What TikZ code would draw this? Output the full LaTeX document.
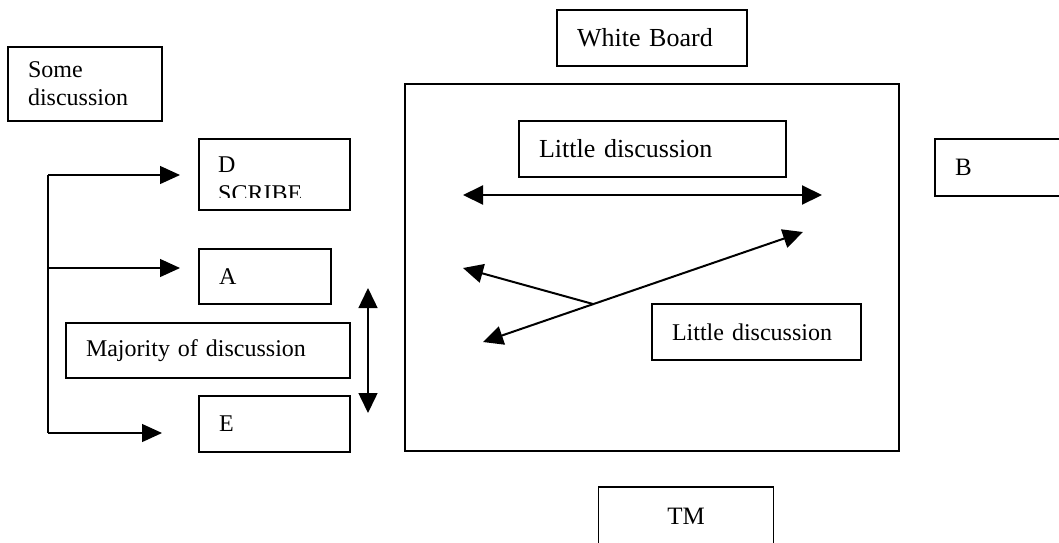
\documentclass[tikz,border=0pt]{standalone}
\usepackage{fontspec}
\setmainfont{Liberation Serif}
\usetikzlibrary{arrows.meta}

\tikzset{
  box/.style={draw, line width=1.6pt, inner xsep=20pt, inner ysep=0pt, align=left,
    font=\fontsize{24}{28}\selectfont},
  pfeil/.style={line width=1.3pt, -{Triangle[length=20pt,width=18pt]}},
  doppelpfeil/.style={line width=2pt, {Triangle[length=20pt,width=19pt]}-{Triangle[length=20pt,width=19pt]}}
}

\begin{document}
\begin{tikzpicture}[x=1pt,y=-1pt]
\useasboundingbox (0,0) rectangle (1059,542);

% Kaesten links
\node[box, minimum width=154pt, minimum height=74pt, text width=114pt] (some) at (85,84) {Some\\discussion};
\node[box, minimum width=151pt, minimum height=71pt] (d) at (274.5,174.5) {};
\begin{scope}
  \clip (199,139) rectangle (350,197);
  \node[anchor=north west, inner sep=0pt, align=left, font=\fontsize{24}{29}\selectfont] (dtext) at (218,157) {D\\SCRIBE};
\end{scope}
\node[box, minimum width=132pt, minimum height=55pt, text width=92pt] (a) at (265,276.5) {A};
\node[box, minimum width=284pt, minimum height=55pt, text width=244pt] (major) at (208,350.5) {Majority of discussion};
\node[box, minimum width=151pt, minimum height=56pt, text width=111pt] (e) at (274.5,424) {E};

% White Board
\node[box, minimum width=190pt, minimum height=56pt, text width=150pt, font=\fontsize{26}{30}\selectfont] (wb) at (652,38) {White Board};
\node[draw, line width=1.6pt, minimum width=494pt, minimum height=367pt] (board) at (652,267.5) {};
\node[box, minimum width=267pt, minimum height=56pt, text width=227pt, font=\fontsize{26}{30}\selectfont] (little1) at (652.5,149) {Little discussion};
\node[box, minimum width=209pt, minimum height=56pt, text width=169pt] (little2) at (756.5,332) {Little discussion};

% rechts und unten
\node[box, minimum width=140pt, minimum height=57pt, text width=100pt, font=\fontsize{25}{29}\selectfont] (b) at (1005,167.5) {B};
\node[box, minimum width=175pt, minimum height=58pt, text width=135pt, align=center, font=\fontsize{25}{29}\selectfont] (tm) at (686,516) {TM};

% Klammer mit Pfeilen
\coordinate (s1) at (48,175);
\coordinate (s2) at (48,268);
\coordinate (s3) at (48,433);
\coordinate (din) at (180,175);
\coordinate (ain) at (180,268);
\coordinate (ein) at (162,433);
\draw[line width=1.3pt] (s1) -- (s3);
\draw[pfeil] (s1) -- (din);
\draw[pfeil] (s2) -- (ain);
\draw[pfeil] (s3) -- (ein);

% senkrechter Doppelpfeil
\coordinate (v1) at (368,288);
\coordinate (v2) at (368,413);
\draw[doppelpfeil, line width=1.5pt] (v1) -- (v2);

% Pfeile auf der Tafel
\coordinate (h1) at (463,195);
\coordinate (h2) at (822,195);
\coordinate (l1) at (483,342);
\coordinate (l2) at (803,232);
\coordinate (kreuz) at (593,304);
\coordinate (k1) at (463,268);
\draw[doppelpfeil] (h1) -- (h2);
\draw[doppelpfeil] (l1) -- (l2);
\draw[line width=2pt, -{Triangle[length=20pt,width=19pt]}] (kreuz) -- (k1);

\end{tikzpicture}
\end{document}
